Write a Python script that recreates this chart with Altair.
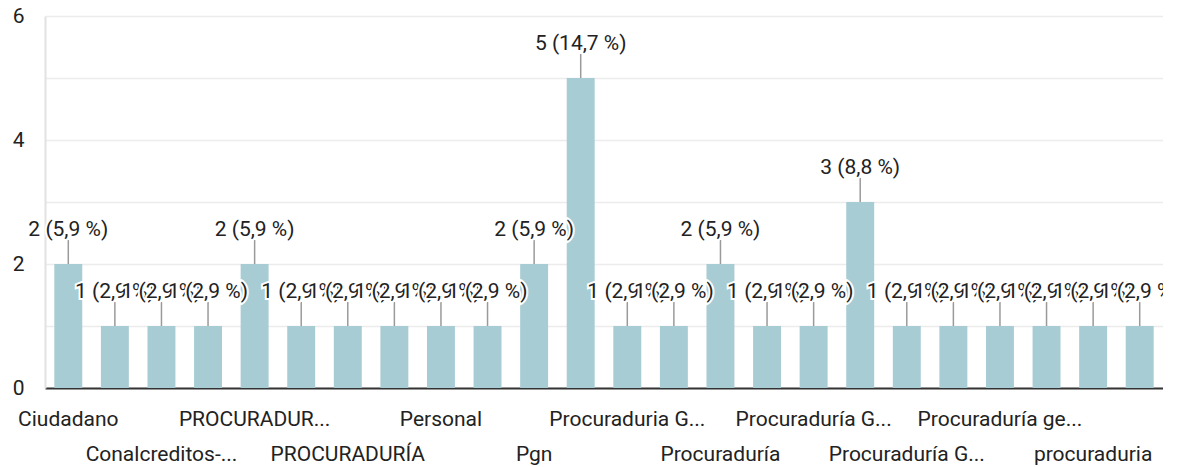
import altair as alt
import pandas as pd

# Category index (x), hidden/visible tick labels and counts
tick_labels = ["Ciudadano", "", "Conalcreditos-...", "", "PROCURADUR...", "",
               "PROCURADURÍA", "", "Personal", "", "Pgn", "",
               "Procuraduria G...", "", "Procuraduría", "", "Procuraduría G...", "",
               "Procuraduría G...", "", "Procuraduría ge...", "", "procuraduria", ""]
values = [2, 1, 1, 1, 2, 1, 1, 1, 1, 1, 2, 5, 1, 1, 2, 1, 1, 3, 1, 1, 1, 1, 1, 1]

total = sum(values)
idx = list(range(len(values)))
ann = [f"{v} ({v / total * 100:.1f} %)".replace(".", ",") for v in values]
df = pd.DataFrame({"idx": idx, "v": values, "ann": ann})

FONT = "Roboto"
TEXT = "#222222"
FS = 21

# labelExpr: every 4th label on row 1, the ones in between on row 2
parts = []
for i, lab in enumerate(tick_labels):
    if lab == "":
        parts.append("''")
    elif i % 4 == 0:
        parts.append(f"'{lab}'")
    else:
        parts.append(f"['', '{lab}']")
label_expr = "[" + ", ".join(parts) + "][datum.value]"

x = alt.X("idx:O", title=None,
          scale=alt.Scale(paddingInner=0.4, paddingOuter=0.2),
          axis=alt.Axis(labelExpr=label_expr, labelAngle=0, ticks=False,
                        labelPadding=20, labelLineHeight=35, labelFontSize=FS,
                        labelFont=FONT, labelColor=TEXT, labelOverlap=False,
                        labelLimit=0, domainColor="#333333", domainWidth=2,
                        grid=False))
y = alt.Y("v:Q", title=None,
          scale=alt.Scale(domain=[0, 6], nice=False),
          axis=alt.Axis(values=[0, 1, 2, 3, 4, 5, 6],
                        labelExpr="datum.value % 2 ? '' : datum.label",
                        ticks=False, labelPadding=21, labelFontSize=FS,
                        labelFont=FONT, labelColor=TEXT,
                        gridColor="#ececec", gridWidth=1.5,
                        domainColor="#e2e2e2", domainWidth=2))

base = alt.Chart(df)
bars = base.mark_bar(color="#a8ccd4").encode(x=x, y=y)
stems = base.mark_rule(color="#9a9a9a", strokeWidth=1.5, y2Offset=-24).encode(
    x=x, y=y, y2=alt.Y2("v"))

layers = [bars, stems]
for i in idx:
    sub = base.transform_filter(alt.datum.idx == i)
    layers.append(sub.mark_text(font=FONT, fontSize=FS, baseline="alphabetic",
                                dy=-28, fill="white", stroke="white",
                                strokeWidth=4)
                  .encode(x=x, y=y, text="ann:N"))
    layers.append(sub.mark_text(font=FONT, fontSize=FS, baseline="alphabetic",
                                dy=-28, fill=TEXT)
                  .encode(x=x, y=y, text="ann:N"))

chart = alt.layer(*layers).properties(
    width=1118, height=372,
    autosize=alt.AutoSizeParams(type="none"),
    padding={"left": 37, "top": 8, "right": 0, "bottom": 80},
    background="white",
).configure_view(stroke=None)

chart.save("out.html", embed_options={"renderer": "svg", "actions": False})
